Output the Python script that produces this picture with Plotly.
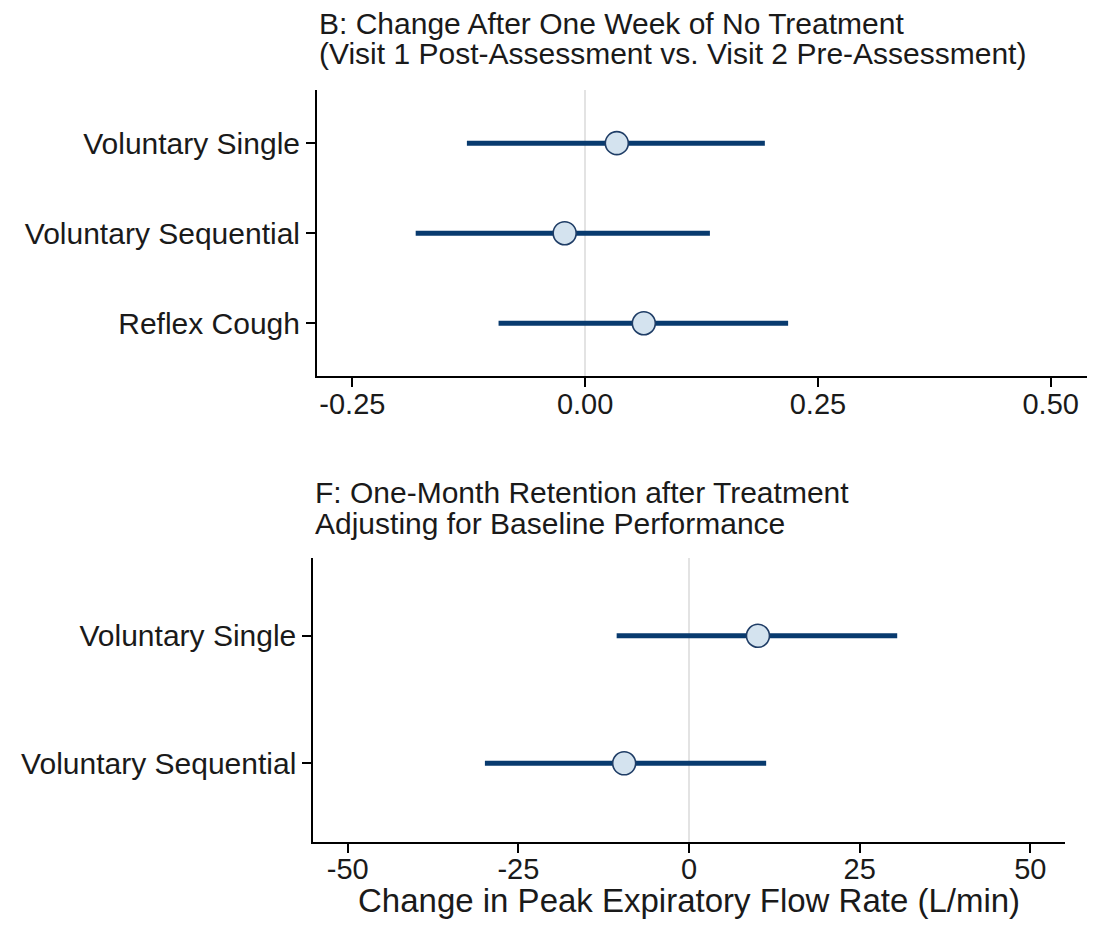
import plotly.graph_objects as go

# page body has an 8px margin; work in screen pixels and convert
OFF = 8
W, H = 1099 - 2 * OFF, 927 - 2 * OFF


def px(sx):
    return (sx - OFF) / W


def py(sy):
    return 1 - (sy - OFF) / H


# Panel B data
b_cats = ["Voluntary Single", "Voluntary Sequential", "Reflex Cough"]
b_est = [0.034, -0.022, 0.063]
b_lo = [-0.127, -0.182, -0.093]
b_hi = [0.193, 0.134, 0.218]
b_ticks = [-0.25, 0.0, 0.25, 0.5]
b_ticktext = ["-0.25", "0.00", "0.25", "0.50"]

# Panel F data
f_cats = ["Voluntary Single", "Voluntary Sequential"]
f_est = [10.1, -9.5]
f_lo = [-10.6, -29.9]
f_hi = [30.5, 11.3]
f_ticks = [-50, -25, 0, 25, 50]
f_ticktext = ["-50", "-25", "0", "25", "50"]

title_b = ["B: Change After One Week of No Treatment",
           "(Visit 1 Post-Assessment vs. Visit 2 Pre-Assessment)"]
title_f = ["F: One-Month Retention after Treatment",
           "Adjusting for Baseline Performance"]
x_title = "Change in Peak Expiratory Flow Rate (L/min)"

LINE = "#083a6e"
FILL = "#d4e3ef"
EDGE = "#1f3d66"
FONT = "Liberation Sans, Arial, Helvetica, sans-serif"
TXT = "#1a1a1a"
YTICKFONT = dict(family=FONT, size=30, color=TXT)
XTICKFONT = dict(family=FONT, size=29, color=TXT)


def add_panel(fig, cats, est, lo, hi, xa, ya):
    n = len(cats)
    pos = list(range(n, 0, -1))
    xs, ys = [], []
    for i in range(n):
        xs += [lo[i], hi[i], None]
        ys += [pos[i], pos[i], None]
    fig.add_trace(go.Scatter(x=xs, y=ys, mode="lines", xaxis=xa, yaxis=ya,
                             line=dict(color=LINE, width=5), hoverinfo="skip",
                             showlegend=False))
    fig.add_trace(go.Scatter(x=est, y=pos, mode="markers", xaxis=xa, yaxis=ya,
                             marker=dict(size=23, color=FILL,
                                         line=dict(color=EDGE, width=1.6)),
                             showlegend=False))
    return pos


fig = go.Figure()
pos_b = add_panel(fig, b_cats, b_est, b_lo, b_hi, "x", "y")
pos_f = add_panel(fig, f_cats, f_est, f_lo, f_hi, "x2", "y2")

axis_common = dict(showgrid=False, showline=True, linecolor="black", linewidth=2,
                   ticks="outside", ticklen=9, tickwidth=2, tickcolor="black",
                   automargin=False, mirror=False)

fig.update_layout(
    width=W, height=H,
    margin=dict(l=0, r=0, t=0, b=0),
    plot_bgcolor="white", paper_bgcolor="white",
    showlegend=False,
    xaxis=dict(domain=[px(317), px(1087)], range=[-0.288, 0.539],
               tickvals=b_ticks, ticktext=b_ticktext, ticklabelstandoff=-8,
               tickfont=XTICKFONT,
               zeroline=True, zerolinecolor="#e3e3e3", zerolinewidth=2,
               anchor="y", **axis_common),
    yaxis=dict(domain=[py(376), py(90)], range=[0.414, 3.59],
               tickvals=pos_b, ticktext=b_cats, zeroline=False, tickfont=YTICKFONT,
               anchor="x", **axis_common),
    xaxis2=dict(domain=[px(313.3), px(1065)], range=[-55.04, 55.08],
                tickvals=f_ticks, ticktext=f_ticktext, ticklabelstandoff=-9,
                tickfont=XTICKFONT,
                zeroline=True, zerolinecolor="#e3e3e3", zerolinewidth=2,
                anchor="y2", **axis_common),
    yaxis2=dict(domain=[py(842), py(558)], range=[0.383, 2.61],
                tickvals=pos_f, ticktext=f_cats, zeroline=False, tickfont=YTICKFONT,
                anchor="x2", **axis_common),
)

annots = []
for txt, yy in zip(title_b, [24, 54]):
    annots.append(dict(text=txt, x=px(317), y=py(yy), xref="paper", yref="paper",
                       xanchor="left", yanchor="middle", showarrow=False,
                       font=dict(family=FONT, size=30, color=TXT)))
for txt, yy in zip(title_f, [493, 523]):
    annots.append(dict(text=txt, x=px(313.3), y=py(yy), xref="paper", yref="paper",
                       xanchor="left", yanchor="middle", showarrow=False,
                       font=dict(family=FONT, size=30, color=TXT)))
annots.append(dict(text=x_title, x=(px(313.3) + px(1065)) / 2, y=py(900),
                   xref="paper", yref="paper", xanchor="center", yanchor="middle",
                   showarrow=False, font=dict(family=FONT, size=33, color=TXT)))
fig.update_layout(annotations=annots)

fig.write_html("out.html")
